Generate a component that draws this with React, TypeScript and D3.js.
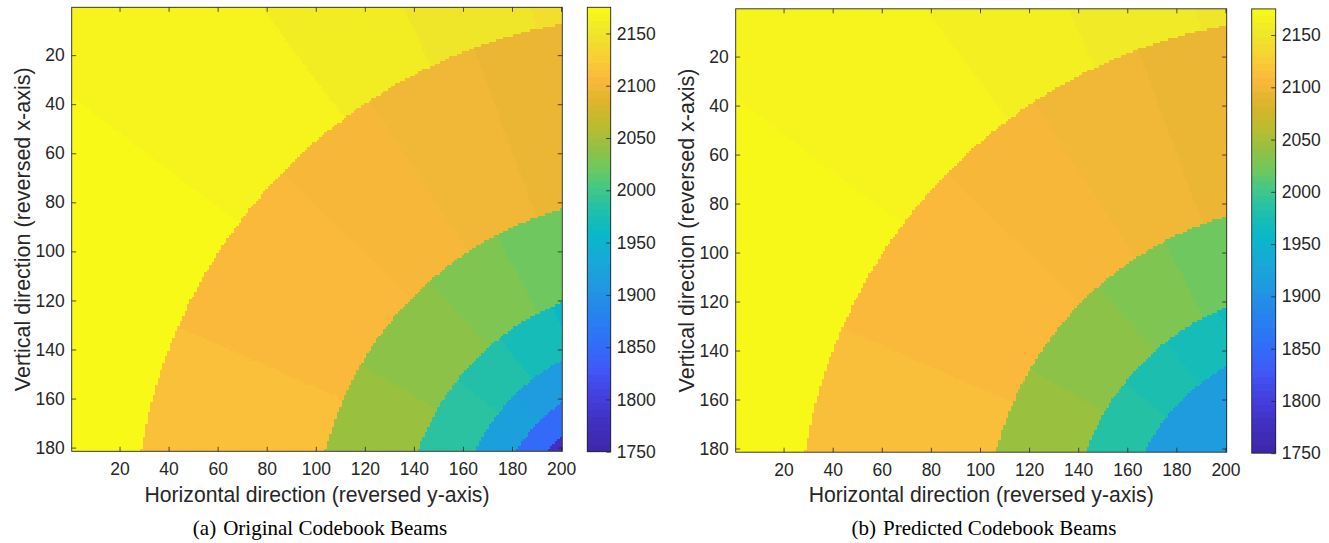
import { useEffect, useMemo, useRef } from 'react'
import * as d3 from 'd3'

// grid size of the beam map (columns = horizontal, rows = vertical)
const gridCols = 200
const gridRows = 181

const xTicks = [20, 40, 60, 80, 100, 120, 140, 160, 180, 200]
const yTicks = [20, 40, 60, 80, 100, 120, 140, 160, 180]
const cbarTicks = [1750, 1800, 1850, 1900, 1950, 2000, 2050, 2100, 2150]
const cbarDomain = [1750, 2175]

// base station position in grid units (it lies outside the plotted area)
const beamOrigin = [238, 216]

// (a) original codebook: ring edges (radius, outer -> inner), sector edges (deg), values
const ringEdgesA = [212, 138.5, 102.4, 80.9, 66.2, 55.8]
const sectorEdgesA = [[37, 53.4, 64.6, 76.9], [23.7, 44.3, 56.8, 69.7], [30.2, 48.6, 62.4], [38.3, 52, 66], [45], [], []]
const beamValuesA = [
  [2173, 2167, 2159, 2151, 2143],
  [2113, 2107, 2103, 2099, 2094],
  [2044, 2037, 2030, 2021],
  [1988, 1983, 1971, 1958],
  [1920, 1913],
  [1850],
  [1780],
]

// (b) predicted codebook
const ringEdgesB = [212, 136, 101, 79]
const sectorEdgesB = [[37, 53.4, 64.6, 76.9], [23.7, 44.3, 56.8, 69.7], [30.2, 48.6, 62.4], [38.3, 52, 66], []]
const beamValuesB = [
  [2172, 2167, 2161, 2155, 2150],
  [2112, 2107, 2103, 2099, 2094],
  [2044, 2037, 2030, 2021],
  [1985, 1977, 1970, 1964],
  [1915],
]

// parula-like colormap
const cmapValues = [1750, 1778, 1803, 1829, 1855, 1877, 1909, 1931, 1957, 1983, 2001, 2020, 2043, 2059, 2084, 2106, 2125, 2151, 2175]
const cmapColors = ['#3e26a8', '#4030c0', '#4440e0', '#4058f8', '#3070f8', '#2880f0', '#2098e0', '#18a8d8', '#08b8c8',
  '#22c0a8', '#40c88a', '#6cc860', '#98c040', '#b8bc30', '#dcb52b', '#fbb83c', '#f8cd35', '#efe62a', '#f9fb15']

const color = d3.scaleLinear<string>().domain(cmapValues).range(cmapColors).interpolate(d3.interpolateRgb).clamp(true)

const sansFont = '"Liberation Sans", Arial, Helvetica, sans-serif'
const serifFont = '"Liberation Serif", "Times New Roman", serif'
const ink = '#262626'

const beamValue = (col, row, ringEdges, sectorEdges, values) => {
  const dx = beamOrigin[0] - col,
        dy = beamOrigin[1] - row
  const r = Math.hypot(dx, dy)
  const phi = Math.atan2(dy, dx) * 180 / Math.PI
  const ring = ringEdges.filter(e => r < e).length
  const sector = sectorEdges[ring].filter(a => phi > a).length
  return values[ring][sector]
}

// merge equal neighbouring cells of a row into one run
const beamRuns = (ringEdges, sectorEdges, values) => {
  const runs = []
  for (let row = 1; row <= gridRows; row++) {
    let start = 1
    let v = beamValue(1, row, ringEdges, sectorEdges, values)
    for (let col = 2; col <= gridCols + 1; col++) {
      const nv = col <= gridCols ? beamValue(col, row, ringEdges, sectorEdges, values) : null
      if (nv !== v) {
        runs.push({ row, c0: start, c1: col - 1, v })
        start = col
        v = nv
      }
    }
  }
  return runs
}

function Panel({ geo, ringEdges, sectorEdges, values, tag, caption }) {
  const axis_ref = useRef<SVGGElement>(null)
  const { left, top, width, height, cbLeft, cbTop, cbWidth, cbHeight, ytitleX, capX } = geo

  const x = d3.scaleLinear([0.5, gridCols + 0.5], [left, left + width])
  const y = d3.scaleLinear([0.5, gridRows + 0.5], [top, top + height])
  const cb = d3.scaleLinear(cbarDomain, [cbTop + cbHeight, cbTop])

  const runs = useMemo(() => beamRuns(ringEdges, sectorEdges, values), [ringEdges, sectorEdges, values])
  const levels = d3.range(64).map(i => cbarDomain[0] + (i + 0.5) * (cbarDomain[1] - cbarDomain[0]) / 64)
  const step = (cbarDomain[1] - cbarDomain[0]) / 64

  useEffect(() => {
    const g = d3.select(axis_ref.current)
    g.selectAll('*').remove()
    const style = sel => sel
      .attr('font-family', sansFont)
      .attr('font-size', 17.5)
      .attr('color', ink)
      .call(s => s.select('.domain').remove())
      .call(s => s.selectAll('.tick line').attr('stroke-width', 0.8))

    g.append('g')
      .attr('transform', `translate(0, ${top + height})`)
      .call(d3.axisBottom(x).tickValues(xTicks).tickSizeInner(-4.5).tickSizeOuter(0).tickPadding(11))
      .call(style)
    g.append('g')
      .attr('transform', `translate(0, ${top})`)
      .call(d3.axisTop(x).tickValues(xTicks).tickSizeInner(-4.5).tickSizeOuter(0).tickFormat(() => ''))
      .call(style)
    g.append('g')
      .attr('transform', `translate(${left}, 0)`)
      .call(d3.axisLeft(y).tickValues(yTicks).tickSizeInner(-4.5).tickSizeOuter(0).tickPadding(7))
      .call(style)
    g.append('g')
      .attr('transform', `translate(${left + width}, 0)`)
      .call(d3.axisRight(y).tickValues(yTicks).tickSizeInner(-4.5).tickSizeOuter(0).tickFormat(() => ''))
      .call(style)
    g.append('g')
      .attr('transform', `translate(${cbLeft + cbWidth}, 0)`)
      .call(d3.axisRight(cb).tickValues(cbarTicks).tickSizeInner(-4.5).tickSizeOuter(0).tickPadding(6).tickFormat(d3.format('d')))
      .call(style)
  }, [])

  return (
    <g>
      <g shapeRendering='crispEdges'>
        {runs.map((d, i) => (
          <rect key={i}
            x={x(d.c0 - 0.5)} y={y(d.row - 0.5)}
            width={x(d.c1 + 0.5) - x(d.c0 - 0.5)} height={y(d.row + 0.5) - y(d.row - 0.5)}
            fill={color(d.v)} />
        ))}
      </g>
      <g shapeRendering='crispEdges'>
        {levels.map((v, i) => (
          <rect key={i} x={cbLeft} width={cbWidth}
            y={cb(v + step / 2)} height={cb(v - step / 2) - cb(v + step / 2)}
            fill={color(v)} />
        ))}
      </g>
      <rect x={left} y={top} width={width} height={height} fill='none' stroke={ink} strokeWidth={0.9} />
      <rect x={cbLeft} y={cbTop} width={cbWidth} height={cbHeight} fill='none' stroke={ink} strokeWidth={0.9} />
      <g ref={axis_ref}></g>
      <text x={left + width / 2} y={502} textAnchor='middle' fontFamily={sansFont} fontSize={21.2} fill={ink}>
        Horizontal direction (reversed y-axis)
      </text>
      <text transform={`translate(${ytitleX}, ${top + height / 2}) rotate(-90)`} textAnchor='middle'
        fontFamily={sansFont} fontSize={21.5} fill={ink}>
        Vertical direction (reversed x-axis)
      </text>
      <text x={capX} y={534.5} textAnchor='middle' fontFamily={serifFont} fontSize={21} fill='#000'>
        {tag}<tspan dx={7}>{caption}</tspan>
      </text>
    </g>
  )
}

const geoA = { left: 71.7, top: 7.3, width: 490.6, height: 444, cbLeft: 587.3, cbTop: 7.3, cbWidth: 23.4, cbHeight: 444.4, ytitleX: 29.5, capX: 320 }
const geoB = { left: 735.7, top: 8.8, width: 491, height: 443.4, cbLeft: 1251.7, cbTop: 8.9, cbWidth: 24, cbHeight: 444.3, ytitleX: 693.5, capX: 984 }

function App() {
  return (
    <svg width={1329} height={543} viewBox='0 0 1329 543'
      style={{ position: 'absolute', left: 0, top: 0, background: '#fff' }}>
      <Panel geo={geoA} ringEdges={ringEdgesA} sectorEdges={sectorEdgesA} values={beamValuesA}
        tag='(a)' caption='Original Codebook Beams' />
      <Panel geo={geoB} ringEdges={ringEdgesB} sectorEdges={sectorEdgesB} values={beamValuesB}
        tag='(b)' caption='Predicted Codebook Beams' />
    </svg>
  )
}

export default App
